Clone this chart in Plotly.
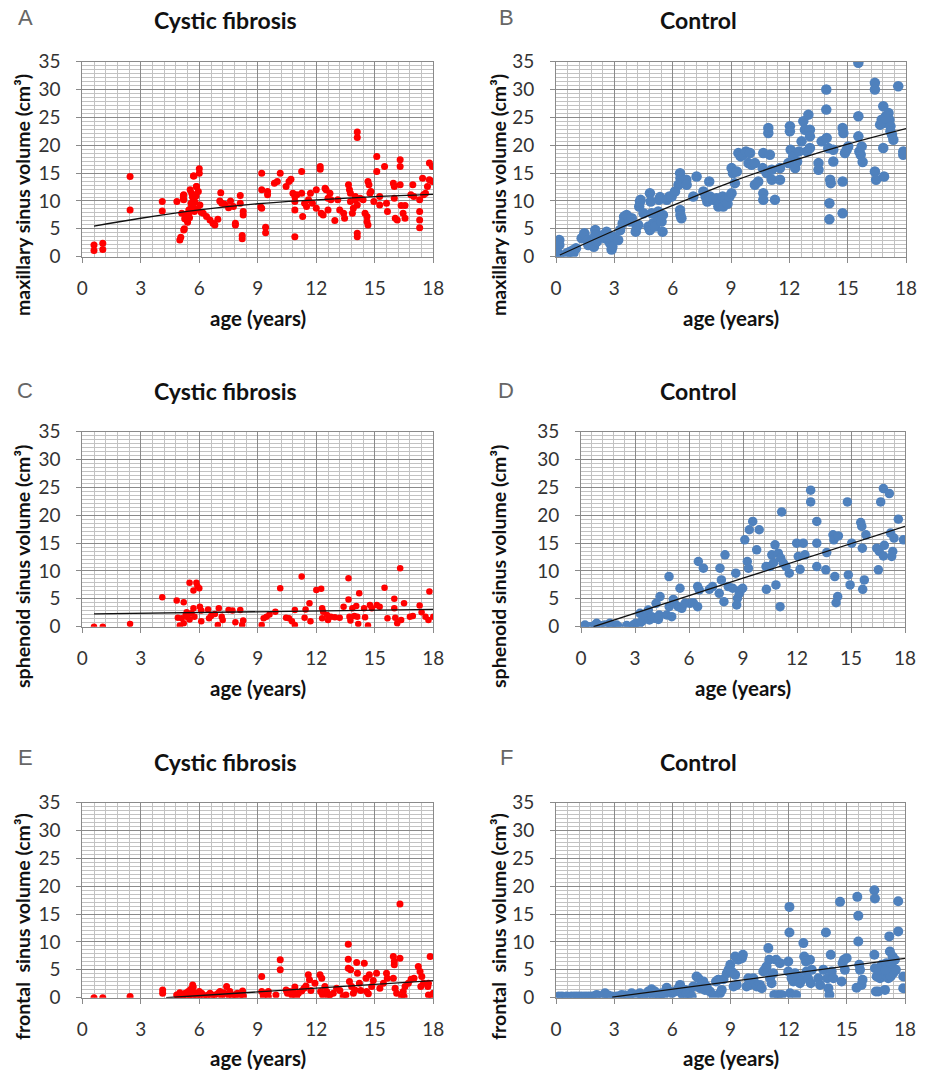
import plotly.graph_objects as go

# ---------------- data ----------------
A_x = [0.6,0.6,1.05,1.05,2.45,2.45,4.1,4.1,4.85,5.0,5.05,5.2,5.2,5.2,5.7,6.0,6.0,5.85,
       5.1,5.18,5.18,5.23,5.35,5.35,5.53,5.61,5.65,5.58,5.66,5.46,5.75,5.72,5.86,5.95,5.83,
       5.3,5.4,5.5,5.9,6.03,5.25,5.45,5.6,5.78,6.1,
       6.2,6.37,6.55,6.7,6.8,6.95,7.1,7.05,7.15,7.3,7.5,7.6,7.75,7.85,7.85,8.1,8.1,8.25,8.25,8.2,8.2,
       9.2,9.2,9.15,9.2,9.4,9.4,9.5,9.5,9.85,10.0,10.15,10.45,10.6,10.7,
       10.8,10.9,10.9,10.9,10.9,11.0,11.25,11.25,11.3,11.4,11.5,11.6,11.7,11.8,
       12.0,12.0,12.2,12.2,12.25,12.35,12.45,12.5,12.6,12.6,12.7,12.75,12.95,13.1,13.2,13.4,13.45,
       13.65,13.7,13.75,13.75,13.85,13.9,14.0,14.0,14.1,14.1,14.1,14.1,14.1,14.25,14.4,14.5,14.6,14.6,14.65,14.65,14.7,14.75,14.8,
       14.95,15.1,15.1,15.25,15.25,15.5,15.6,15.65,
       15.95,16.0,16.0,16.05,16.15,16.3,16.3,16.3,16.35,16.45,16.55,16.55,16.85,16.95,17.0,
       17.3,17.3,17.3,17.3,17.45,17.5,17.6,17.7,17.8,17.8,17.95,17.95]
A_y = [1.1,2.1,1.3,2.4,8.4,14.4,9.9,8.2,9.9,3.0,3.5,4.8,10.2,11.1,14.5,15.8,15.0,12.6,
       7.8,10.95,10.4,5.0,6.6,7.2,12.0,11.4,10.7,9.6,9.0,8.4,8.1,14.5,12.6,11.7,10.9,
       7.4,6.2,7.0,8.6,9.3,6.8,7.6,8.9,9.8,8.0,
       7.8,7.2,6.6,6.0,5.7,6.7,11.5,10.0,9.6,9.4,8.8,10.0,9.0,6.0,5.7,11.0,9.6,8.1,7.5,3.8,3.2,
       15.0,12.0,8.9,8.7,5.3,4.3,11.7,11.1,13.2,13.5,15.0,12.6,13.5,13.9,
       11.4,10.8,9.9,8.4,3.6,11.1,15.3,11.4,7.2,9.6,9.0,10.2,11.4,9.6,
       12.0,8.7,16.2,15.7,7.8,7.5,12.3,12.0,10.5,8.4,11.4,10.2,6.5,10.2,8.4,7.8,6.9,
       12.9,12.0,11.4,9.9,7.8,8.7,10.8,10.2,9.3,22.4,21.4,4.2,3.6,10.5,10.2,7.8,6.3,7.2,5.7,13.5,12.9,11.4,11.7,
       9.9,18.0,15.3,9.3,10.8,16.2,9.6,8.1,
       13.2,12.6,10.5,6.9,6.6,17.4,16.2,12.9,9.2,7.8,6.9,9.2,11.1,12.9,10.8,
       10.2,8.1,6.6,5.2,14.1,11.1,11.4,12.6,13.8,16.8,16.2,13.5]

B_x = [0.17,0.17,0.12,0.17,0.55,0.72,0.9,1.03,0.9,
       1.32,1.46,1.46,1.66,1.66,1.83,1.95,2.02,2.02,2.1,
       2.43,2.52,2.6,2.7,2.78,2.86,2.9,2.95,
       3.2,3.3,3.43,3.5,3.63,3.77,3.8,3.9,
       4.1,4.15,4.23,4.28,4.32,4.35,4.5,4.75,4.83,4.83,4.87,4.92,
       5.0,5.1,5.18,5.26,5.3,5.35,5.43,5.48,5.5,5.7,5.83,
       5.95,6.12,6.3,6.38,6.4,6.4,6.38,6.4,6.45,6.55,6.7,6.72,7.23,7.06,
       7.58,7.7,7.78,7.88,7.92,8.1,8.26,8.35,8.47,8.57,8.6,8.7,8.82,8.92,9.03,
       9.03,9.1,9.2,9.3,9.38,9.5,9.63,9.77,9.9,9.98,10.06,
       10.23,10.23,10.4,10.63,10.66,10.66,10.66,10.83,10.92,10.92,11.0,11.1,11.1,11.26,
       11.52,11.52,11.95,12.03,12.03,12.07,12.2,12.3,12.4,12.5,12.63,12.72,12.8,12.9,12.98,13.06,13.06,13.06,
       13.5,13.5,13.66,13.9,13.9,13.92,14.0,14.06,14.06,14.1,14.13,14.26,14.26,
       14.74,14.78,14.74,14.74,14.86,14.95,15.03,15.55,15.55,15.55,15.6,15.67,15.72,15.77,
       16.4,16.4,16.4,16.46,16.83,16.83,16.87,16.75,16.83,16.97,17.1,17.15,17.2,17.2,17.28,17.35,17.6,17.86,17.86,16.67,16.92]
B_y = [3.0,2.1,0.6,0.3,0.6,0.9,1.2,1.5,0.7,
       3.3,3.9,4.2,3.0,2.1,2.7,1.8,4.8,3.9,2.7,
       3.9,3.3,4.5,3.0,2.4,1.3,1.8,3.6,
       3.0,4.8,6.0,7.2,7.5,6.7,6.3,6.9,
       4.5,5.4,5.7,9.0,9.9,10.2,7.8,5.4,4.8,11.4,9.9,7.8,
       6.0,5.4,7.5,8.1,10.2,10.7,6.3,4.5,7.5,10.2,10.8,
       10.8,11.7,12.9,15.0,14.1,13.2,8.4,7.5,6.9,13.5,13.8,12.9,14.4,10.8,
       11.7,10.8,9.9,13.5,10.8,10.2,10.5,9.0,9.6,10.8,9.0,10.2,9.5,10.8,11.4,
       15.9,15.0,13.2,15.3,18.6,18.0,18.3,18.9,16.8,18.6,16.5,
       16.8,12.9,13.5,15.9,18.6,11.4,10.2,15.0,23.1,22.2,18.3,15.6,13.8,10.2,
       13.8,15.9,16.8,23.4,22.5,19.2,18.0,15.9,17.1,18.9,20.7,24.3,22.8,18.9,25.5,22.8,21.6,19.5,
       16.8,15.6,20.7,30.0,26.4,21.3,19.5,9.6,6.7,13.8,13.2,17.1,19.2,
       23.1,22.2,13.5,7.8,18.6,19.2,19.8,34.8,25.2,21.6,18.9,18.3,19.8,17.0,
       31.2,30.0,15.3,13.8,27.0,19.5,14.4,24.6,24.0,25.2,25.8,24.6,23.4,22.5,21.9,21.0,30.6,18.9,18.3,23.7,24.9]

C_x = [0.6,1.05,2.45,4.1,4.84,4.9,5.0,5.1,5.2,5.2,5.3,5.35,5.4,5.5,5.5,5.6,5.7,5.7,5.75,5.85,5.9,6.0,
       6.03,6.1,6.1,6.45,6.5,6.6,6.8,7.0,6.95,7.15,7.2,7.5,7.7,7.85,8.1,8.2,8.25,
       9.2,9.3,9.45,9.6,9.9,10.15,10.45,10.6,10.75,10.9,10.9,11.25,11.4,11.45,11.65,11.7,12.0,12.25,12.3,12.35,
       12.3,12.55,12.6,12.75,12.95,13.2,13.4,13.65,13.65,13.7,13.75,13.85,13.95,14.05,14.1,14.15,14.2,14.45,
       14.5,14.65,14.75,14.85,15.1,15.25,15.5,15.65,16.0,16.0,16.05,16.15,16.3,16.35,16.5,16.8,16.95,17.3,17.4,
       17.6,17.75,17.8,18.0]
C_y = [0.0,0.0,0.5,5.3,4.7,1.6,0.2,1.5,0.6,4.4,2.1,2.6,1.7,1.3,7.9,2.4,6.5,3.3,1.8,7.9,7.3,6.9,
       3.6,2.9,1.0,3.1,1.5,1.9,2.3,3.3,0.3,1.8,1.2,3.0,2.9,0.8,3.0,0.3,1.1,
       0.3,1.5,1.8,2.2,2.7,6.9,1.6,1.5,1.0,0.3,3.0,9.0,1.6,3.1,4.2,1.0,6.6,6.8,3.3,2.7,
       1.5,2.1,1.2,1.8,1.7,1.6,3.6,8.7,4.9,1.8,1.1,3.3,1.9,3.7,1.8,0.5,6.0,3.3,
       1.7,0.2,3.9,3.3,3.9,3.6,7.0,1.5,5.0,3.3,1.6,0.6,10.5,1.2,4.2,1.8,1.9,3.8,2.6,
       1.8,1.2,6.3,1.8]

D_x = [0.18,0.22,0.5,0.78,0.87,1.05,1.33,1.6,1.7,1.98,2.07,2.54,2.69,2.9,3.04,3.2,
       3.28,3.37,3.46,3.6,3.74,3.8,3.93,4.1,4.17,4.3,4.35,4.39,4.76,4.89,4.9,5.04,5.13,5.17,
       5.4,5.5,5.6,5.78,6.05,6.24,6.48,6.52,6.48,6.57,6.8,7.13,7.31,
       7.68,7.72,7.8,7.94,8.0,8.18,8.43,8.6,8.65,8.69,8.8,8.87,8.98,
       9.1,9.24,9.3,9.35,9.54,9.76,9.9,10.28,10.3,10.5,10.6,10.7,10.78,10.83,10.96,11.06,11.1,11.15,11.24,11.39,11.57,
       11.98,12.07,12.17,12.35,12.44,12.76,12.76,13.1,13.1,13.1,13.65,13.6,14.0,14.05,14.1,14.17,14.26,14.3,
       14.8,14.85,14.95,15.04,15.54,15.6,15.63,15.65,15.74,15.83,16.43,16.52,16.57,16.65,16.8,16.85,16.8,
       17.13,17.2,17.26,17.32,17.39,17.63,17.91]
D_y = [0.0,0.3,0.0,0.3,0.6,0.2,0.3,0.6,0.2,0.3,0.0,0.2,0.0,0.3,0.6,0.3,
       2.4,0.9,1.5,1.8,3.0,1.2,1.8,1.5,4.2,1.3,2.1,5.4,2.1,9.0,3.6,1.8,4.9,4.3,
       3.6,6.9,3.3,4.2,4.2,4.3,3.6,11.7,7.2,6.6,10.5,6.7,7.2,
       6.0,10.5,8.4,4.5,12.9,7.2,6.9,9.6,3.9,5.1,6.0,6.6,6.9,
       15.6,11.7,10.5,17.4,18.9,13.8,17.4,10.8,6.7,10.8,12.9,11.5,14.7,7.5,13.2,3.6,12.3,20.6,11.4,10.8,9.6,
       15.0,12.6,10.3,15.0,12.9,24.5,22.4,18.9,15.0,10.8,13.3,10.2,16.5,15.6,9.0,4.3,5.4,16.3,
       22.4,9.3,7.5,15.0,18.7,18.0,14.1,6.7,8.4,16.5,14.1,10.2,13.5,22.4,24.8,14.6,12.7,
       23.9,16.8,12.6,13.5,15.9,19.3,15.6]

E_x = [0.6,1.05,2.45,4.12,4.12,
       4.84,4.92,5.0,5.15,5.2,5.28,5.38,5.43,5.52,5.56,5.66,5.69,5.69,5.78,5.86,6.0,6.03,6.12,6.24,
       6.38,6.55,6.63,6.8,6.97,7.06,7.15,7.26,7.4,7.49,7.57,7.7,7.83,7.95,8.08,8.22,8.26,
       9.2,9.2,9.28,9.42,9.54,9.54,9.93,10.15,10.15,10.45,10.52,10.63,10.74,10.82,10.9,10.99,11.08,11.25,11.37,11.47,11.59,11.65,11.72,
       11.93,12.19,12.28,12.22,12.32,12.44,12.53,12.62,12.7,12.87,13.04,13.21,13.39,13.52,13.64,13.64,13.64,13.76,13.7,13.81,13.9,13.98,14.07,14.11,14.21,14.28,
       14.46,14.55,14.58,14.67,14.72,14.84,14.92,15.09,15.26,15.44,15.6,15.64,
       15.95,16.0,16.0,15.95,16.04,16.12,16.29,16.29,16.38,16.46,16.5,16.55,16.72,16.86,17.01,17.23,17.32,17.41,17.36,17.5,17.72,17.75,17.84,17.75,17.92,18.0]
E_y = [0.0,0.0,0.2,1.4,0.8,
       0.5,0.2,0.9,0.2,0.5,0.8,0.2,1.1,0.5,1.5,2.3,1.9,0.3,0.8,0.2,1.1,0.5,0.8,0.2,
       0.4,0.8,0.2,0.5,0.8,1.1,0.2,0.9,2.0,0.5,1.1,0.2,0.5,0.8,0.2,1.2,0.3,
       3.8,1.1,0.3,0.8,1.1,0.2,0.5,6.8,5.0,1.4,0.8,1.1,0.5,1.1,1.9,0.2,0.8,1.2,1.7,2.1,4.1,3.2,1.3,
       2.6,4.1,3.5,1.1,0.5,2.0,1.1,0.2,0.5,0.8,1.7,1.3,0.3,0.5,9.6,6.9,5.3,5.0,2.9,2.0,0.8,1.4,6.3,4.4,2.6,1.3,
       6.2,3.5,1.1,0.7,4.1,2.0,3.1,4.4,1.7,2.6,4.4,3.5,
       7.4,6.5,5.9,3.5,1.7,0.8,16.8,7.1,0.2,1.1,0.2,2.0,2.6,3.3,3.5,5.6,4.7,3.8,2.0,2.6,2.0,2.6,7.4,0.5,0.2,0.8]

F_x = [0.12,0.3,0.55,0.8,0.98,1.15,1.32,1.5,1.67,1.84,2.01,2.1,2.44,2.53,2.7,2.87,
       3.13,3.39,3.56,3.73,3.9,4.16,4.33,4.5,4.68,4.76,4.93,5.02,5.1,5.19,5.36,5.45,5.54,5.71,5.85,
       5.97,6.14,6.31,6.4,6.48,6.57,6.65,6.74,6.91,7.0,7.08,7.25,7.34,7.43,7.51,7.6,7.68,7.77,7.94,8.12,8.25,8.37,8.46,8.55,8.64,
       8.81,8.9,8.99,9.06,9.16,9.24,9.24,9.32,9.4,9.59,9.64,9.83,9.92,10.0,
       10.18,10.27,10.35,10.52,10.61,10.69,10.78,10.86,10.95,11.0,11.04,11.12,11.2,11.26,11.35,11.47,11.55,11.64,
       11.98,11.98,12.04,12.04,12.07,12.15,12.24,12.33,12.38,12.5,12.58,12.67,12.76,12.8,12.89,12.92,13.0,13.1,13.14,13.19,
       13.53,13.62,13.79,13.92,14.0,14.05,14.1,14.17,14.22,14.31,14.65,14.73,14.78,14.85,14.9,14.99,
       15.5,15.54,15.59,15.59,15.64,15.68,15.76,15.81,16.42,16.45,16.42,16.45,16.5,16.62,16.71,16.8,16.88,16.97,
       17.05,17.14,17.19,17.22,17.26,17.31,17.36,17.39,17.48,17.53,17.65,17.65,17.91,17.91,16.54,16.62,17.0,17.26]
F_y = [0.2,0.2,0.2,0.2,0.2,0.2,0.2,0.2,0.2,0.2,0.2,0.5,0.4,0.8,0.4,0.2,
       0.2,0.5,0.4,0.2,0.8,0.5,0.8,0.2,0.2,1.1,1.5,0.5,1.1,0.2,0.2,0.8,0.2,1.8,1.1,
       0.8,1.1,1.7,2.3,0.8,0.2,1.4,0.8,0.8,0.2,2.0,3.8,3.5,1.7,2.3,2.9,1.4,2.0,1.1,0.4,2.9,3.2,0.8,1.4,3.3,
       4.4,5.0,5.9,4.7,2.0,7.4,4.1,2.3,6.8,7.1,7.7,2.0,3.5,2.3,
       3.5,2.6,2.0,2.3,1.7,4.7,5.0,5.6,8.9,6.8,3.5,2.6,4.4,0.5,6.8,0.5,6.2,0.5,
       6.5,4.7,16.3,11.7,0.8,3.5,2.9,4.4,0.5,3.8,2.6,3.2,9.8,7.4,6.5,4.7,3.5,6.8,2.6,5.0,
       3.5,2.3,5.0,11.7,3.5,1.7,0.5,7.7,4.7,3.5,17.2,2.9,6.2,6.8,5.0,7.1,
       1.8,18.1,14.7,10.1,5.9,5.0,2.3,3.2,19.3,17.8,7.7,5.3,1.1,1.1,3.5,5.9,4.4,1.4,
       6.2,3.5,11.0,8.3,3.8,5.9,7.4,4.4,6.8,5.0,11.9,17.3,3.8,1.7,3.8,5.0,5.0,6.2]

# trend lines
A_trend_x = [0.6, 3, 6, 9, 12, 15, 18]
A_trend_y = [5.5, 6.9, 8.4, 9.5, 10.2, 10.8, 11.2]
B_trend_x = [0.2, 3, 6, 9, 12, 15, 18]
B_trend_y = [0.3, 4.7, 9.2, 13.4, 17.0, 20.2, 23.0]
C_trend_x = [0.6, 18]
C_trend_y = [2.3, 3.1]
D_trend_x = [0.7, 9, 18]
D_trend_y = [0.0, 8.7, 18.0]
E_trend_x = [4.3, 18]
E_trend_y = [0.0, 3.05]
F_trend_x = [2.9, 18]
F_trend_y = [0.1, 7.05]

letters = ["A", "B", "C", "D", "E", "F"]
titles = ["Cystic fibrosis", "Control"] * 3
y_titles = ["maxillary sinus volume (cm³)"] * 2 + ["sphenoid sinus volume (cm³)"] * 2 + \
           ["frontal\u00a0 sinus volume (cm³)"] * 2
x_title = "age (years)"

RED = "#FF0000"
BLUE = "#4F81BD"

W, H = 931, 1072
FONT = "Lato, 'Open Sans', sans-serif"

panels = [
    dict(x=A_x, y=A_y, tx=A_trend_x, ty=A_trend_y, c=RED, s=7,
         px=(82.3, 433.3), py=(61.7, 256.7)),
    dict(x=B_x, y=B_y, tx=B_trend_x, ty=B_trend_y, c=BLUE, s=10.5,
         px=(556.0, 906.0), py=(61.7, 256.7)),
    dict(x=C_x, y=C_y, tx=C_trend_x, ty=C_trend_y, c=RED, s=6.5,
         px=(82.3, 433.3), py=(431.7, 626.7)),
    dict(x=D_x, y=D_y, tx=D_trend_x, ty=D_trend_y, c=BLUE, s=9.5,
         px=(581.0, 905.0), py=(431.7, 626.7)),
    dict(x=E_x, y=E_y, tx=E_trend_x, ty=E_trend_y, c=RED, s=7,
         px=(82.3, 433.3), py=(802.7, 997.7)),
    dict(x=F_x, y=F_y, tx=F_trend_x, ty=F_trend_y, c=BLUE, s=10,
         px=(556.0, 905.0), py=(802.7, 997.7)),
]

fig = go.Figure()
layout = dict(width=W, height=H, margin=dict(l=0, r=0, t=0, b=0, pad=0, autoexpand=False),
              paper_bgcolor="white", plot_bgcolor="white", showlegend=False,
              font=dict(family=FONT, color="#222"))
annotations = []

def ax_common():
    return dict(showgrid=True, gridcolor="#8A8A8A", gridwidth=1, automargin=False,
                showline=True, linecolor="#8A8A8A", linewidth=1, mirror=True,
                ticks="outside", ticklen=5, tickcolor="#8A8A8A",
                tickfont=dict(family=FONT, size=19, color="#333"),
                zeroline=False, fixedrange=True)

row_title_y = [20, 391, 762]
row_letter_y = [18, 390, 757]
row_xtitle_y = [318, 688, 1058]
row_ytitle_y = [195, 567, 927]

for i, p in enumerate(panels):
    n = "" if i == 0 else str(i + 1)
    xa, ya = "x" + n, "y" + n
    fig.add_trace(go.Scatter(x=p["x"], y=p["y"], mode="markers", xaxis=xa, yaxis=ya,
                             marker=dict(color=p["c"], size=p["s"], line=dict(width=0)),
                             hoverinfo="skip"))
    fig.add_trace(go.Scatter(x=p["tx"], y=p["ty"], mode="lines", xaxis=xa, yaxis=ya,
                             line=dict(color="#111", width=1.3,
                                       shape="spline" if len(p["tx"]) > 2 else "linear"),
                             hoverinfo="skip"))
    xd = [p["px"][0] / W, p["px"][1] / W]
    yd = [1 - p["py"][1] / H, 1 - p["py"][0] / H]
    xax = ax_common()
    xax.update(domain=xd, range=[0, 18], tickmode="linear", tick0=0, dtick=3,
               anchor=ya, ticklabelstandoff=9,
               minor=dict(tick0=0, dtick=0.6, showgrid=True, gridcolor="#C2C2C2", gridwidth=1, ticks=""))
    yax = ax_common()
    yax.update(domain=yd, range=[0, 35], tickmode="linear", tick0=0, dtick=5,
               anchor=xa, ticklabelstandoff=12,
               minor=dict(tick0=0, dtick=5 / 7, showgrid=True, gridcolor="#C2C2C2", gridwidth=1, ticks=""))
    layout["xaxis" + n] = xax
    layout["yaxis" + n] = yax

    col = i % 2
    row = i // 2
    tx = 225 if col == 0 else 698
    annotations.append(dict(text="<b>" + titles[i] + "</b>", x=tx / W, y=1 - row_title_y[row] / H,
                            xref="paper", yref="paper", showarrow=False, xanchor="center", yanchor="middle",
                            font=dict(family=FONT, size=23, color="#111")))
    lx = 25 if col == 0 else 506
    annotations.append(dict(text=letters[i], x=lx / W, y=1 - row_letter_y[row] / H,
                            xref="paper", yref="paper", showarrow=False, xanchor="center", yanchor="middle",
                            font=dict(family="'Liberation Sans', Arial, sans-serif", size=22, color="#666")))
    xtx = (p["px"][0] + p["px"][1]) / 2
    annotations.append(dict(text="<b>" + x_title + "</b>", x=xtx / W, y=1 - row_xtitle_y[row] / H,
                            xref="paper", yref="paper", showarrow=False, xanchor="center", yanchor="middle",
                            font=dict(family=FONT, size=20.5, color="#111")))
    ytx = 22 if col == 0 else 498
    annotations.append(dict(text="<b>" + y_titles[i] + "</b>", x=ytx / W, y=1 - row_ytitle_y[row] / H,
                            xref="paper", yref="paper", showarrow=False, xanchor="center", yanchor="middle",
                            textangle=-90, font=dict(family=FONT, size=19.5, color="#111")))

layout["annotations"] = annotations
fig.update_layout(**layout)
fig.write_html("out.html", include_plotlyjs=True, config={"displayModeBar": False})
